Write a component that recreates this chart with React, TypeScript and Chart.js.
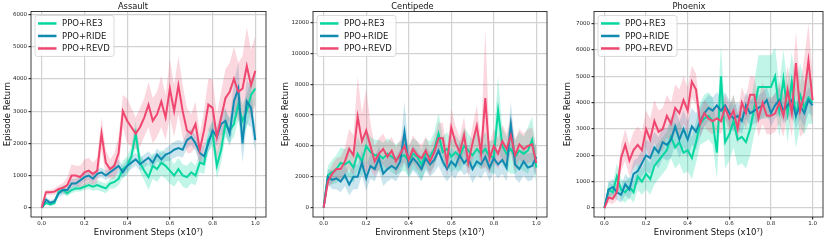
import React, { useEffect, useRef } from "react";
import { Chart, registerables } from "chart.js";

Chart.register(...registerables);

// ---------- data ----------
const STEPS = [
  0, 0.02, 0.04, 0.06, 0.08, 0.1, 0.12, 0.14, 0.16, 0.18,
  0.2, 0.22, 0.24, 0.26, 0.28, 0.3, 0.32, 0.34, 0.36, 0.38,
  0.4, 0.42, 0.44, 0.46, 0.48, 0.5, 0.52, 0.54, 0.56, 0.58,
  0.6, 0.62, 0.64, 0.66, 0.68, 0.7, 0.72, 0.74, 0.76, 0.78,
  0.8, 0.82, 0.84, 0.86, 0.88, 0.9, 0.92, 0.94, 0.96, 0.98,
  1.0,
];
const X_TICKS = [0, 0.2, 0.4, 0.6, 0.8, 1.0];
const A_Y_TICKS = [0, 1000, 2000, 3000, 4000, 5000, 6000];
const C_Y_TICKS = [0, 2000, 4000, 6000, 8000, 10000, 12000];
const P_Y_TICKS = [0, 1000, 2000, 3000, 4000, 5000, 6000, 7000];
const SERIES_NAMES = ["PPO+RE3", "PPO+RIDE", "PPO+REVD"];
const SERIES_COLORS = ["#06d6a0", "#118ab2", "#ef476f"];
const BAND_COLORS = ["rgba(6,214,160,0.25)", "rgba(17,138,178,0.22)", "rgba(239,71,111,0.22)"];

// Assault
const A_RE3 = [
  0, 150, 100, 150, 500, 550, 450, 550, 600, 600,
  650, 700, 650, 700, 650, 600, 750, 800, 900, 1200,
  1300, 1600, 2300, 1400, 1150, 950, 1300, 1200, 1400, 1300,
  1150, 1000, 1200, 1000, 950, 1100, 1000, 1400, 1350, 2100,
  2300, 1300, 1800, 2600, 2400, 2600, 3200, 2700, 3000, 3500,
  3700,
];
const A_RE3_SD = [
  0, 50, 50, 80, 100, 100, 100, 100, 100, 100,
  100, 120, 120, 150, 150, 150, 150, 200, 200, 250,
  300, 300, 400, 300, 300, 400, 400, 400, 400, 400,
  400, 350, 350, 350, 350, 350, 300, 300, 300, 350,
  400, 400, 400, 400, 400, 400, 500, 500, 500, 500,
  500,
];
const A_RIDE = [
  0, 250, 150, 200, 450, 550, 550, 750, 750, 850,
  950, 1000, 900, 1050, 1100, 1000, 1100, 1200, 1300, 1100,
  1300, 1400, 1500, 1350, 1450, 1550, 1400, 1650, 1500, 1650,
  1700, 1800, 1850, 1800, 2100, 2200, 2000, 1700, 1600, 2000,
  2400, 2200, 2600, 2700, 2300, 3300, 3700, 2000, 3300, 3100,
  2100,
];
const A_RIDE_SD = [
  0, 100, 80, 80, 120, 150, 150, 150, 150, 150,
  150, 150, 150, 150, 150, 150, 150, 200, 200, 200,
  200, 200, 200, 200, 200, 200, 200, 200, 200, 200,
  250, 250, 250, 250, 250, 250, 250, 300, 300, 300,
  300, 300, 350, 400, 400, 600, 800, 600, 700, 600,
  400,
];
const A_REVD = [
  0, 480, 480, 500, 580, 620, 700, 1000, 1000, 950,
  1100, 1150, 1050, 1150, 2300, 1400, 1200, 1300, 1700, 3000,
  2700, 2500, 2300, 2500, 2800, 3200, 2700, 2900, 3300, 2800,
  3700, 3000, 3800, 3000, 2400, 2300, 2600, 1800, 2400, 3200,
  3100, 2200, 2800, 3400, 3600, 4000, 3600, 3700, 4400, 3800,
  4250,
];
const A_REVD_SD = [
  0, 80, 80, 100, 120, 150, 250, 350, 300, 350,
  400, 400, 350, 400, 500, 400, 300, 400, 500, 500,
  700, 600, 500, 600, 600, 700, 700, 700, 800, 700,
  900, 800, 900, 800, 700, 600, 700, 500, 600, 800,
  900, 700, 800, 900, 900, 1000, 900, 1000, 1200, 1100,
  1100,
];

// Centipede
const C_RE3 = [
  0, 2100, 2300, 2500, 2900, 2800, 3000, 2600, 3500, 3000,
  4000, 3600, 3400, 3400, 3200, 3500, 3300, 3100, 3300, 3400,
  3000, 3500, 3300, 2800, 3500, 3300, 3800, 4800, 3600, 3800,
  3300, 3600, 3300, 4000, 3700, 3400, 3800, 3500, 3800, 3300,
  3300, 6300, 4000, 3500, 3800, 3300, 3700, 3500, 3700, 4400,
  2600,
];
const C_RE3_SD = [
  0, 600, 800, 900, 1000, 1000, 1000, 1000, 1100, 1000,
  1100, 1000, 1000, 1000, 1000, 1000, 1000, 1000, 1000, 1000,
  1000, 1000, 1000, 1000, 1000, 1000, 1100, 1300, 1000, 1100,
  1000, 1100, 1000, 1200, 1100, 1000, 1100, 1000, 1100, 1000,
  1100, 2200, 1200, 1100, 1600, 1100, 1200, 1100, 1500, 1500,
  1000,
];
const C_RIDE = [
  0, 2000, 1800, 1900, 1700, 2100, 1500, 2000, 2000, 2900,
  1900, 2700, 2500, 3200, 2200, 2500, 2700, 2500, 3000, 4900,
  2700, 3200, 2900, 2500, 3200, 2800, 3100, 3700, 3000, 2500,
  3000, 2700, 3400, 2900, 3200, 2500, 3000, 2800, 3300, 2600,
  3200, 2800, 3100, 2600, 5400, 2800, 2500, 3000, 2600, 2700,
  3300,
];
const C_RIDE_SD = [
  0, 500, 600, 700, 700, 700, 700, 800, 800, 800,
  800, 800, 800, 800, 800, 800, 800, 800, 800, 2000,
  800, 800, 800, 800, 800, 800, 800, 1000, 900, 800,
  900, 800, 900, 800, 900, 900, 900, 900, 900, 900,
  900, 900, 900, 900, 1500, 900, 900, 900, 900, 900,
  900,
];
const C_REVD = [
  0, 1700, 2200, 2500, 2500, 3000, 3800, 3400, 5900, 4300,
  5000, 4000, 3000, 3500, 3800, 3300, 3700, 3000, 3500, 4000,
  3100, 3800, 3400, 3200, 3700, 3000, 3600, 4500, 4500, 2900,
  5200, 4200, 3600, 4700, 2900, 4200, 5300, 3500, 7100, 3200,
  4000, 3500, 4300, 3800, 4700, 3400, 4100, 3800, 4000, 4100,
  2900,
];
const C_REVD_SD = [
  0, 400, 600, 700, 800, 900, 1300, 1300, 2600, 1800,
  2700, 1500, 1000, 1000, 1000, 900, 900, 900, 900, 1000,
  900, 900, 900, 900, 900, 900, 900, 1000, 1000, 900,
  1200, 1100, 1000, 1200, 900, 1100, 1300, 1000, 4500, 1000,
  1100, 1000, 1100, 1000, 1200, 1000, 1000, 1000, 1100, 1100,
  900,
];

// Phoenix
const P_RE3 = [
  0, 700, 600, 1200, 700, 600, 800, 600, 1200, 1000,
  1300, 1100, 1600, 1800, 2000, 2200, 2700, 2300, 2500, 2100,
  2200, 1900, 2500, 3200, 3400, 3500, 3300, 2100, 5000, 2500,
  2800, 3300, 2600, 2700, 2500, 3000, 3800, 4600, 4600, 4600,
  4600, 5000, 3700, 4900, 3600, 4800, 3500, 4300, 3800, 4200,
  4000,
];
const P_RE3_SD = [
  0, 300, 300, 500, 400, 400, 400, 400, 500, 500,
  600, 600, 700, 700, 700, 700, 800, 800, 800, 800,
  800, 800, 800, 800, 900, 900, 900, 1000, 1200, 1000,
  1000, 1000, 1000, 1000, 1000, 1000, 1000, 1200, 1200, 1200,
  1200, 1100, 1000, 1100, 1100, 1100, 1200, 1200, 1000, 1000,
  800,
];
const P_RIDE = [
  0, 700, 800, 600, 500, 900, 700, 1300, 1400, 1700,
  2000, 1900, 2300, 2100, 2500, 2400, 2600, 3100, 2600, 3000,
  2600, 3100, 2900, 3300, 3600, 3800, 3700, 3900, 3700, 3900,
  3600, 3400, 3500, 3300, 3900, 3600, 3700, 3800, 3900, 4100,
  3600, 3900, 4100, 3700, 3900, 4100, 3500, 3900, 3600, 4100,
  3900,
];
const P_RIDE_SD = [
  0, 300, 300, 300, 300, 400, 400, 500, 500, 500,
  600, 600, 600, 600, 600, 600, 700, 700, 700, 700,
  700, 700, 700, 600, 500, 500, 500, 500, 500, 500,
  500, 500, 500, 500, 500, 500, 500, 500, 500, 500,
  500, 500, 500, 500, 500, 500, 500, 500, 500, 500,
  400,
];
const P_REVD = [
  0, 400, 350, 600, 1900, 2400, 1800, 2200, 2400, 2200,
  3000, 2600, 3300, 2900, 3000, 3500, 3200, 3800, 3600, 4100,
  3700, 4800, 4500, 3200, 3600, 3400, 3300, 3400, 3300, 3800,
  3400, 3700, 3000, 4000, 3600, 4300, 4300, 3400, 4000, 3500,
  3500, 3600, 4000, 3500, 4500, 3600, 5500, 3700, 4300, 5600,
  4100,
];
const P_REVD_SD = [
  0, 200, 200, 300, 500, 600, 600, 700, 700, 700,
  700, 800, 800, 800, 800, 800, 800, 900, 900, 900,
  900, 600, 600, 500, 500, 500, 500, 500, 500, 500,
  500, 600, 600, 600, 600, 700, 700, 700, 800, 700,
  700, 700, 800, 800, 900, 900, 1200, 1000, 1400, 1400,
  1000,
];

type Panel = {
  title: string;
  means: number[][];
  spreads: number[][];
  yTicks: number[];
  yMin: number;
  yMax: number;
  left: number;
  width: number;
  yAxisWidth: number;
  rightPad: number;
  yTitlePad: number;
};

const PANELS: Panel[] = [
  {
    title: "Assault",
    means: [A_RE3, A_RIDE, A_REVD],
    spreads: [A_RE3_SD, A_RIDE_SD, A_REVD_SD],
    yTicks: A_Y_TICKS,
    yMin: -288, yMax: 6094,
    left: 0, width: 275, yAxisWidth: 31, rightPad: 9, yTitlePad: 3,
  },
  {
    title: "Centipede",
    means: [C_RE3, C_RIDE, C_REVD],
    spreads: [C_RE3_SD, C_RIDE_SD, C_REVD_SD],
    yTicks: C_Y_TICKS,
    yMin: -601, yMax: 12711,
    left: 278, width: 277, yAxisWidth: 35, rightPad: 8, yTitlePad: 3,
  },
  {
    title: "Phoenix",
    means: [P_RE3, P_RIDE, P_REVD],
    spreads: [P_RE3_SD, P_RIDE_SD, P_REVD_SD],
    yTicks: P_Y_TICKS,
    yMin: -341, yMax: 7465,
    left: 555, width: 275, yAxisWidth: 39, rightPad: 7, yTitlePad: 7.5,
  },
];

const FONT = "'DejaVu Sans', sans-serif";
const HEIGHT = 241;

const frameLegendPlugin = {
  id: "frameLegend",
  afterDatasetsDraw(chart: any) {
    const { ctx, chartArea: a } = chart;
    ctx.save();
    // frame
    ctx.strokeStyle = "#262626";
    ctx.lineWidth = 0.9;
    ctx.strokeRect(a.left, a.top, a.right - a.left, a.bottom - a.top);
    // legend box
    const bx = a.left + 4, by = a.top + 4, bw = 79, bh = 41, r = 2.5;
    ctx.beginPath();
    ctx.moveTo(bx + r, by);
    ctx.lineTo(bx + bw - r, by);
    ctx.arcTo(bx + bw, by, bx + bw, by + r, r);
    ctx.lineTo(bx + bw, by + bh - r);
    ctx.arcTo(bx + bw, by + bh, bx + bw - r, by + bh, r);
    ctx.lineTo(bx + r, by + bh);
    ctx.arcTo(bx, by + bh, bx, by + bh - r, r);
    ctx.lineTo(bx, by + r);
    ctx.arcTo(bx, by, bx + r, by, r);
    ctx.closePath();
    ctx.fillStyle = "rgba(255,255,255,0.85)";
    ctx.fill();
    ctx.strokeStyle = "#d0d0d0";
    ctx.lineWidth = 0.8;
    ctx.stroke();
    const items = chart.data.datasets.filter((d: any) => !d.isBand);
    ctx.font = `8.5px ${FONT}`;
    ctx.textBaseline = "middle";
    ctx.textAlign = "left";
    items.forEach((d: any, i: number) => {
      const y = a.top + 12 + i * 12.5;
      ctx.strokeStyle = d.borderColor;
      ctx.lineWidth = 2.5;
      ctx.beginPath();
      ctx.moveTo(a.left + 7, y);
      ctx.lineTo(a.left + 25.5, y);
      ctx.stroke();
      ctx.fillStyle = "#1a1a1a";
      ctx.fillText(d.label, a.left + 31, y + 0.5);
    });
    ctx.restore();
  },
};

function buildConfig(p: Panel): any {
  const datasets: any[] = [];
  p.means.forEach((m, i) => {
    datasets.push({
      label: SERIES_NAMES[i],
      data: STEPS.map((x, k) => ({ x, y: m[k] })),
      borderColor: SERIES_COLORS[i],
      backgroundColor: SERIES_COLORS[i],
      borderWidth: 2,
      pointRadius: 0,
      tension: 0,
      fill: false,
      order: 2 - i,
    });
  });
  p.means.forEach((m, i) => {
    const sd = p.spreads[i];
    datasets.push({
      label: "",
      isBand: true,
      data: STEPS.map((x, k) => ({ x, y: m[k] + sd[k] })),
      borderColor: "rgba(0,0,0,0)",
      borderWidth: 0,
      pointRadius: 0,
      tension: 0,
      fill: false,
      order: 12 - i,
    });
    datasets.push({
      label: "",
      isBand: true,
      data: STEPS.map((x, k) => ({ x, y: m[k] - sd[k] })),
      borderColor: "rgba(0,0,0,0)",
      backgroundColor: BAND_COLORS[i],
      borderWidth: 0,
      pointRadius: 0,
      tension: 0,
      fill: "-1",
      order: 12 - i,
    });
  });

  return {
    type: "line",
    data: { datasets },
    plugins: [frameLegendPlugin],
    options: {
      animation: false,
      responsive: false,
      devicePixelRatio: 1,
      events: [],
      layout: { padding: { left: 0, right: p.rightPad, top: 0, bottom: 0 } },
      plugins: {
        legend: { display: false },
        tooltip: { enabled: false },
        title: {
          display: true,
          text: p.title,
          color: "#111",
          font: { family: FONT, size: 8.3, weight: "normal", lineHeight: 1.2 },
          padding: { top: 1.5, bottom: 0 },
        },
      },
      scales: {
        x: {
          type: "linear",
          min: -0.05,
          max: 1.05,
          afterFit: (s: any) => { s.height = 24; },
          afterBuildTicks: (s: any) => { s.ticks = X_TICKS.map((v) => ({ value: v })); },
          ticks: {
            callback: (v: any) => Number(v).toFixed(1),
            font: { family: FONT, size: 5.5 },
            color: "#262626",
            padding: 1,
            maxRotation: 0,
            autoSkip: false,
          },
          grid: { color: "#d2d2d2", lineWidth: 1.2, tickColor: "#333", tickLength: 2.5 },
          border: { display: false },
          title: {
            display: true,
            text: "Environment Steps (x10⁷)",
            color: "#111",
            font: { family: FONT, size: 8.5 },
            padding: { top: 0, bottom: 3 },
          },
        },
        y: {
          type: "linear",
          min: p.yMin,
          max: p.yMax,
          afterFit: (s: any) => { s.width = p.yAxisWidth; },
          afterBuildTicks: (s: any) => { s.ticks = p.yTicks.map((v) => ({ value: v })); },
          ticks: {
            callback: (v: any) => String(Math.round(Number(v))),
            font: { family: FONT, size: 5.5 },
            color: "#262626",
            padding: 1.5,
            autoSkip: false,
          },
          grid: { color: "#d2d2d2", lineWidth: 1.2, tickColor: "#333", tickLength: 2.5 },
          border: { display: false },
          title: {
            display: true,
            text: "Episode Return",
            color: "#111",
            font: { family: FONT, size: 8.5 },
            padding: { top: p.yTitlePad, bottom: 0 },
          },
        },
      },
    },
  };
}

function PanelChart({ panel }: { panel: Panel }) {
  const ref = useRef<HTMLCanvasElement>(null);
  useEffect(() => {
    if (!ref.current) return;
    const chart = new Chart(ref.current, buildConfig(panel));
    return () => chart.destroy();
  }, [panel]);
  return (
    <canvas
      ref={ref}
      width={panel.width}
      height={HEIGHT}
      style={{ position: "absolute", left: panel.left, top: 0, width: panel.width, height: HEIGHT }}
    />
  );
}

export default function App() {
  return (
    <div style={{ position: "fixed", left: 0, top: 0, width: 830, height: HEIGHT, background: "#ffffff" }}>
      {PANELS.map((p) => (
        <PanelChart key={p.title} panel={p} />
      ))}
    </div>
  );
}
